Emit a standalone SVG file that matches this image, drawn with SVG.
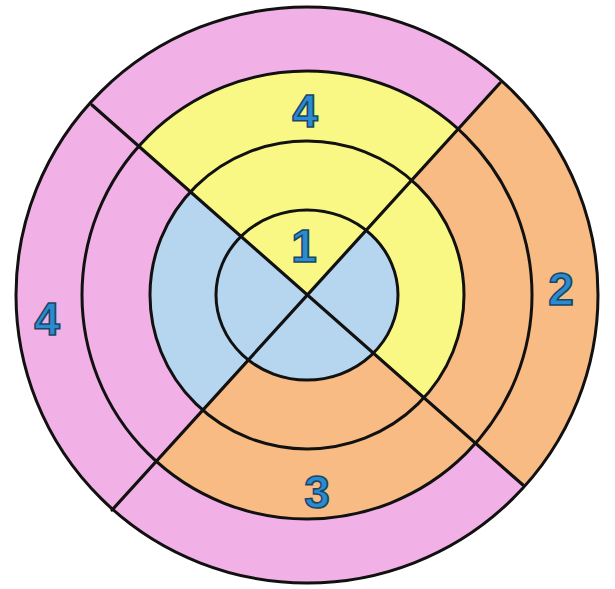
<svg xmlns="http://www.w3.org/2000/svg" width="615" height="589" viewBox="0 0 615 589">
  <style>
    .pink { fill: #F2B1E6; }
    .yellow { fill: #FAF884; }
    .orange { fill: #F8BB84; }
    .blue { fill: #B6D5EE; }
    .ring { fill: none; stroke: #111; stroke-width: 3; }
    .div { stroke: #111; stroke-width: 3.2; stroke-linecap: round; }
    .num { font-family: "Liberation Sans", Arial, sans-serif; font-weight: bold; font-size: 46px; fill: #2A8BD0; stroke: #1B4664; stroke-width: 1.6; text-anchor: middle; }
  </style>
  <defs>
    <clipPath id="cOuter"><ellipse cx="307" cy="295" rx="291" ry="288"/></clipPath>
    <clipPath id="c3"><ellipse cx="307" cy="295" rx="225" ry="224"/></clipPath>
    <clipPath id="c2"><ellipse cx="307" cy="295" rx="157" ry="154"/></clipPath>
    <clipPath id="c1"><ellipse cx="307" cy="295" rx="91" ry="85"/></clipPath>
    <polygon id="wTop" points="307,295 -123,-85 693,-129"/>
    <polygon id="wRight" points="307,295 693,-129 739,675"/>
    <polygon id="wBottom" points="307,295 739,675 -83,725"/>
    <polygon id="wLeft" points="307,295 -83,725 -123,-85"/>
  </defs>
  <rect width="615" height="589" fill="#fff"/>
  <g id="ring-outer" clip-path="url(#cOuter)">
    <use href="#wTop" class="pink"/>
    <use href="#wRight" class="orange"/>
    <use href="#wBottom" class="pink"/>
    <use href="#wLeft" class="pink"/>
  </g>
  <g id="ring-3" clip-path="url(#c3)">
    <use href="#wTop" class="yellow"/>
    <use href="#wRight" class="orange"/>
    <use href="#wBottom" class="orange"/>
    <use href="#wLeft" class="pink"/>
  </g>
  <g id="ring-2" clip-path="url(#c2)">
    <use href="#wTop" class="yellow"/>
    <use href="#wRight" class="yellow"/>
    <use href="#wBottom" class="orange"/>
    <use href="#wLeft" class="blue"/>
  </g>
  <g id="ring-inner" clip-path="url(#c1)">
    <use href="#wTop" class="yellow"/>
    <use href="#wRight" class="blue"/>
    <use href="#wBottom" class="blue"/>
    <use href="#wLeft" class="blue"/>
  </g>
  <g id="outlines">
    <ellipse class="ring" cx="307" cy="295" rx="291" ry="288"/>
    <ellipse class="ring" cx="307" cy="295" rx="225" ry="224"/>
    <ellipse class="ring" cx="307" cy="295" rx="157" ry="154"/>
    <ellipse class="ring" cx="307" cy="295" rx="91" ry="85"/>
  </g>
  <g id="dividers">
    <line class="div" x1="92" y1="105" x2="523" y2="485"/>
    <line class="div" x1="500" y1="83" x2="112" y2="510"/>
  </g>
  <g id="labels">
    <text class="num" x="305" y="127">4</text>
    <text class="num" x="304" y="262">1</text>
    <text class="num" x="561" y="305">2</text>
    <text class="num" x="47" y="335">4</text>
    <text class="num" x="317" y="508">3</text>
  </g>
</svg>
